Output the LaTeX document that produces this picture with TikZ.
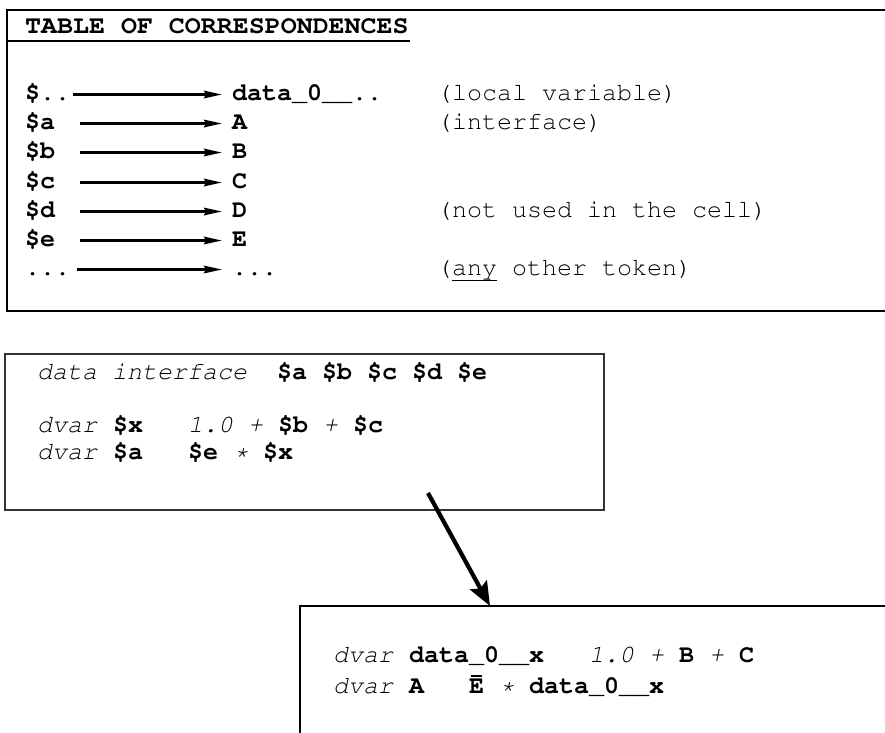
\documentclass[tikz,border=0pt]{standalone}
\usepackage[T1]{fontenc}
\usepackage{courier}
\usetikzlibrary{arrows.meta}
\newcommand\codefont{\fontsize{25}{30}\selectfont\ttfamily}
\newcommand\barE{\textbf{\makebox[0pt][l]{\hspace{0.07em}\raisebox{0.66em}{\rule{0.46em}{0.08em}}}E}}
\begin{document}
\begin{tikzpicture}[x=1pt,y=-1pt,
  txt/.style={font=\codefont, inner sep=0pt, anchor=base west},
  tarrow/.style={line width=2.6pt, -{Stealth[length=18pt,width=7.5pt,inset=2pt]}, shorten >=10pt},
  bigarrow/.style={line width=4.2pt, -{Stealth[length=24pt,width=19pt,inset=4pt]}},
  boxline/.style={line width=1.3pt, draw=black!80}
  ]
\clip (0,0) rectangle (885,732);
\fill[white] (0,0) rectangle (885,732);
% ---------- table of correspondences ----------
\draw[line width=2.4pt] (7,10) rectangle (910,311);
\draw[line width=2.2pt] (7,41) -- (410,41);
\node[txt] (title) at (25,33) {\scalebox{1.065}[1]{\textbf{TABLE OF CORRESPONDENCES}}};

\node[txt] (l0) at (25,100) {\textbf{\$..}};
\node[txt] (l1) at (25,129) {\textbf{\$a}};
\node[txt] (l2) at (25,158) {\textbf{\$b}};
\node[txt] (l3) at (25,188) {\textbf{\$c}};
\node[txt] (l4) at (25,217) {\textbf{\$d}};
\node[txt] (l5) at (25,246) {\textbf{\$e}};
\node[txt] (l6) at (25,275) {\textbf{...}};

\node[txt] (r0) at (232,100) {\textbf{data\_0\_\_..}};
\node[txt] (r1) at (232,129) {\textbf{A}};
\node[txt] (r2) at (232,158) {\textbf{B}};
\node[txt] (r3) at (232,188) {\textbf{C}};
\node[txt] (r4) at (232,217) {\textbf{D}};
\node[txt] (r5) at (232,246) {\textbf{E}};
\node[txt] (r6) at (232,275) {\textbf{...}};

\node[txt] (c0) at (437,100) {(local variable)};
\node[txt] (c1) at (437,129) {(interface)};
\node[txt] (c4) at (437,217) {(not used in the cell)};
\node[txt] (c6) at (437,275) {(\underline{any} other token)};

\coordinate (s0) at (73,94.5);
\coordinate (s1) at (80,123.5);
\coordinate (s2) at (80,152.5);
\coordinate (s3) at (80,182.5);
\coordinate (s4) at (80,211.5);
\coordinate (s5) at (80,240.5);
\coordinate (s6) at (77,269.5);
\foreach \i in {0,...,6} {
  \draw[tarrow] (s\i) -- (s\i -| r\i.west);
}
% ---------- source cell ----------
\draw[boxline] (5,354) rectangle (604,510);
\node[txt] (m1) at (37,379) {\textit{data interface}~~\textbf{\$a \$b \$c \$d \$e}};
\node[txt] (m2) at (37,432) {\textit{dvar} \textbf{\$x}~~~\textit{1.0 +} \textbf{\$b} \textit{+} \textbf{\$c}};
\node[txt] (m3) at (37,459) {\textit{dvar} \textbf{\$a}~~~\textbf{\$e} \textit{*} \textbf{\$x}};
% ---------- translated cell ----------
\draw[boxline, draw=black] (300,606) rectangle (910,760);
\node[txt] (b1) at (333,662) {\textit{dvar} \textbf{data\_0\_\_x}~~~\textit{1.0 +} \textbf{B} \textit{+} \textbf{C}};
\node[txt] (b2) at (333,693) {\textit{dvar} \textbf{A}~~~\barE{} \textit{*} \textbf{data\_0\_\_x}};
% ---------- transformation arrow ----------
\coordinate (a0) at (428,493);
\coordinate (a1) at (490,606);
\draw[bigarrow] (a0) -- (a1);
\end{tikzpicture}
\end{document}
